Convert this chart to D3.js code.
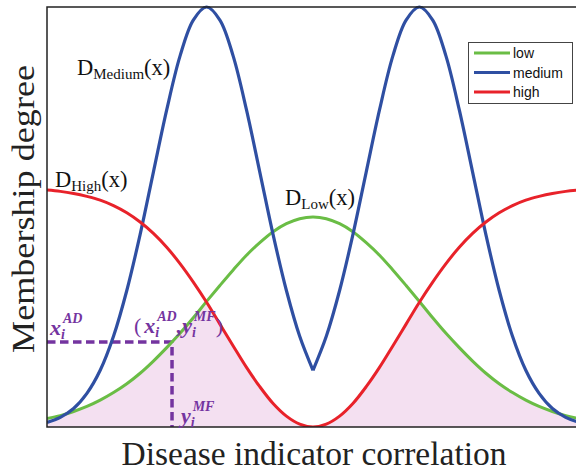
<!DOCTYPE html>
<html>
<head>
<meta charset="utf-8">
<script src="https://cdn.jsdelivr.net/npm/d3@7"></script>
<style>
    body { margin: 0; background: #fff; }
    svg { display: block; }
</style>
</head>
<body>
<div id="chart"></div>
<script>
    "use strict";

    // x positions of the sampled points (arbitrary 0..100 scale)
    const xValues = [0, 2.5, 5, 7.5, 10, 12.5, 15, 17.5, 20, 22.5, 25, 27.5, 30, 32.5, 35, 37.5, 40,
        42.5, 45, 47.5, 50, 52.5, 55, 57.5, 60, 62.5, 65, 67.5, 70, 72.5, 75, 77.5, 80, 82.5, 85,
        87.5, 90, 92.5, 95, 97.5, 100];

    const lowValues = [0.020, 0.027, 0.037, 0.049, 0.064, 0.082, 0.103, 0.128, 0.157, 0.189, 0.223,
        0.260, 0.299, 0.337, 0.374, 0.409, 0.439, 0.465, 0.484, 0.496, 0.500, 0.496, 0.484, 0.465,
        0.439, 0.409, 0.374, 0.337, 0.299, 0.260, 0.223, 0.189, 0.157, 0.128, 0.103, 0.082, 0.064,
        0.049, 0.037, 0.027, 0.020];

    const mediumValues = [0.011, 0.023, 0.044, 0.080, 0.135, 0.216, 0.325, 0.458, 0.607, 0.755, 0.883,
        0.969, 1.000, 0.969, 0.883, 0.755, 0.607, 0.458, 0.325, 0.216, 0.135, 0.216, 0.325, 0.458,
        0.607, 0.755, 0.883, 0.969, 1.000, 0.969, 0.883, 0.755, 0.607, 0.458, 0.325, 0.216, 0.135,
        0.080, 0.044, 0.023, 0.011];

    const highValues = [0.564, 0.561, 0.556, 0.549, 0.540, 0.527, 0.510, 0.488, 0.461, 0.428, 0.389,
        0.345, 0.297, 0.245, 0.193, 0.142, 0.096, 0.056, 0.026, 0.007, 0.000, 0.007, 0.026, 0.056,
        0.096, 0.142, 0.193, 0.245, 0.297, 0.345, 0.389, 0.428, 0.461, 0.488, 0.510, 0.527, 0.540,
        0.549, 0.556, 0.561, 0.564];

    const seriesNames = ["low", "medium", "high"];
    const seriesColors = ["#6abd45", "#2f4fa2", "#e8222a"];

    // marked point on the low curve
    const markX = 23.5;

    const width = 576, height = 472;
    const plot = { left: 47, right: 579, top: 7, bottom: 427 };

    let svg = d3.select("#chart").append("svg")
        .attr("width", width)
        .attr("height", height);

    let x = d3.scaleLinear().domain([0, 100]).range([plot.left, plot.right]);
    let y = d3.scaleLinear().domain([0, 1]).range([plot.bottom, plot.top]);

    let points = xValues.map((v, i) => ({
        x: v,
        low: lowValues[i],
        medium: mediumValues[i],
        high: highValues[i]
    }));

    svg.append("defs").append("clipPath").attr("id", "clip")
        .append("rect")
        .attr("x", plot.left).attr("y", 0)
        .attr("width", width - plot.left).attr("height", plot.bottom);

    let g = svg.append("g").attr("clip-path", "url(#clip)");

    // shaded area under min(low, high)
    let area = d3.area()
        .x(d => x(d.x))
        .y0(y(0))
        .y1(d => y(Math.min(d.low, d.high)))
        .curve(d3.curveCatmullRom);

    g.append("path")
        .datum(points)
        .attr("d", area)
        .attr("fill", "#f4e0f1");

    // dashed guide lines
    let markY = d3.scaleLinear().domain(xValues).range(lowValues)(markX);
    g.append("path")
        .attr("d", `M${x(0)},${y(markY)}H${x(markX)}V${y(0)}`)
        .attr("fill", "none")
        .attr("stroke", "#7434a0")
        .attr("stroke-width", 3.5)
        .attr("stroke-dasharray", "8.5,4.5");

    let line = (key) => d3.line()
        .x(d => x(d.x))
        .y(d => y(d[key]))
        .curve(d3.curveCatmullRom);

    g.append("path")
        .datum(points)
        .attr("d", line("low"))
        .attr("fill", "none")
        .attr("stroke", seriesColors[0])
        .attr("stroke-width", 3);

    // medium has a cusp in the middle, draw both halves separately
    let mid = xValues.indexOf(50);
    [points.slice(0, mid + 1), points.slice(mid)].forEach(part => {
        g.append("path")
            .datum(part)
            .attr("d", line("medium"))
            .attr("fill", "none")
            .attr("stroke", seriesColors[1])
            .attr("stroke-width", 3.2);
    });

    g.append("path")
        .datum(points)
        .attr("d", line("high"))
        .attr("fill", "none")
        .attr("stroke", seriesColors[2])
        .attr("stroke-width", 3);

    // frame (left, top, bottom)
    svg.append("path")
        .attr("d", `M${width},${plot.top}H${plot.left}V${plot.bottom}H${width}`)
        .attr("fill", "none")
        .attr("stroke", "#222")
        .attr("stroke-width", 1.5);

    // axis titles
    svg.append("text")
        .attr("x", 314).attr("y", 465)
        .attr("text-anchor", "middle")
        .attr("font-family", "Liberation Serif")
        .attr("font-size", 34)
        .attr("textLength", 385)
        .attr("lengthAdjust", "spacingAndGlyphs")
        .attr("fill", "#222")
        .text("Disease indicator correlation");

    svg.append("text")
        .attr("transform", "translate(34,209) rotate(-90)")
        .attr("text-anchor", "middle")
        .attr("font-family", "Liberation Serif")
        .attr("font-size", 32)
        .attr("textLength", 288)
        .attr("lengthAdjust", "spacingAndGlyphs")
        .attr("fill", "#222")
        .text("Membership degree");

    // curve labels D_xxx(x)
    let curveLabel = (px, py, sub) => {
        let t = svg.append("text")
            .attr("x", px).attr("y", py)
            .attr("font-family", "Liberation Serif")
            .attr("font-size", 22.5)
            .attr("fill", "#111");
        t.append("tspan").text("D");
        t.append("tspan").attr("font-size", 15).attr("dy", 4).text(sub);
        t.append("tspan").attr("dy", -4).text("(x)");
    };
    curveLabel(77, 75, "Medium");
    curveLabel(55, 187, "High");
    curveLabel(285, 205, "Low");

    // purple math labels
    let mathLabel = (px, py, parts) => {
        let t = svg.append("text")
            .attr("x", px).attr("y", py)
            .attr("font-family", "Liberation Serif")
            .attr("font-style", "italic")
            .attr("font-weight", "bold")
            .attr("font-size", 22)
            .attr("fill", "#7434a0");
        parts.forEach(p => {
            let s = t.append("tspan").text(p.text);
            if (p.size) s.attr("font-size", p.size);
            if (p.dx) s.attr("dx", p.dx);
            if (p.dy) s.attr("dy", p.dy);
            if (p.normal) s.attr("font-style", "normal").attr("font-weight", "normal");
        });
    };

    mathLabel(50, 335, [
        { text: "x" },
        { text: "i", size: 14, dy: 4 },
        { text: "AD", size: 14, dx: -2, dy: -16 }
    ]);

    mathLabel(134, 333, [
        { text: "(", normal: true },
        { text: "x", dx: 3 },
        { text: "i", size: 14, dy: 4 },
        { text: "AD", size: 14, dx: -2, dy: -16 },
        { text: ",", dy: 12 },
        { text: "y" },
        { text: "i", size: 14, dy: 4 },
        { text: "MF", size: 14, dx: -2, dy: -16 },
        { text: ")", normal: true, dy: 12 }
    ]);

    mathLabel(181, 423, [
        { text: "y" },
        { text: "i", size: 14, dy: 4 },
        { text: "MF", size: 14, dx: -2, dy: -16 }
    ]);

    // legend
    let legend = svg.append("g").attr("transform", "translate(468,42)");
    legend.append("rect")
        .attr("x", 0.5).attr("y", 0.5)
        .attr("width", 104).attr("height", 61)
        .attr("fill", "#fff")
        .attr("stroke", "#444")
        .attr("stroke-width", 1);

    seriesNames.forEach((name, i) => {
        let ly = 11 + i * 19.5;
        legend.append("line")
            .attr("x1", 6).attr("x2", 42)
            .attr("y1", ly).attr("y2", ly)
            .attr("stroke", seriesColors[i])
            .attr("stroke-width", 3);
        legend.append("text")
            .attr("x", 45).attr("y", ly + 5)
            .attr("font-family", "Liberation Sans")
            .attr("font-size", 14)
            .attr("fill", "#111")
            .text(name);
    });
</script>
</body>
</html>
